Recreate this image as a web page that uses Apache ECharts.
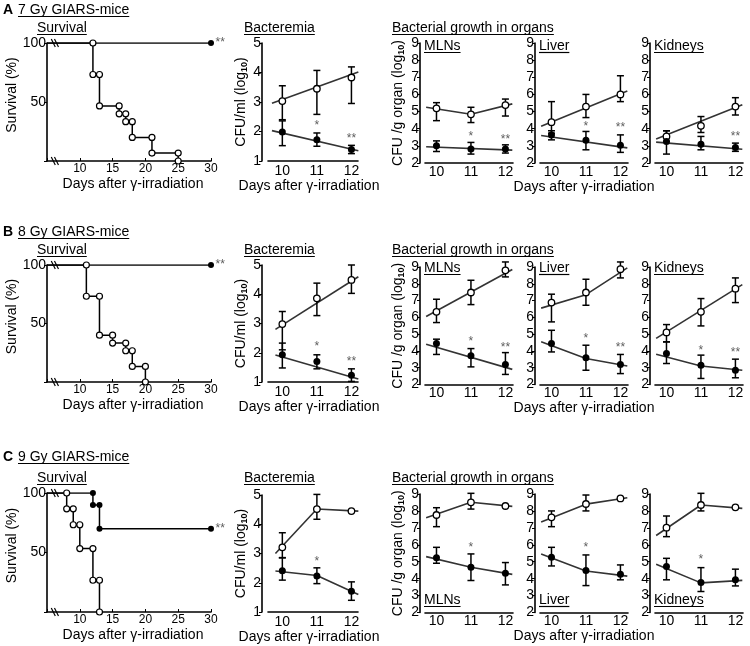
<!DOCTYPE html>
<html>
<head>
<meta charset="utf-8">
<script src="https://cdn.jsdelivr.net/npm/echarts@6/dist/echarts.min.js"></script>
<style>
  html, body { margin: 0; padding: 0; background: #fff; }
  #chart { width: 750px; height: 646px; }
</style>
</head>
<body>
<div id="chart"></div>
<script>
const FONT = "'Liberation Sans', Arial, sans-serif";
const DAYS = [10, 11, 12];

// ---- Survival: day of each drop, survival % after the drop ----
const A_survOpenDays = [12, 13, 16, 17, 18, 21, 25];
const A_survOpenPct = [73.3, 46.7, 40, 33.3, 20, 6.7, 0];
const A_survFillDays = [];
const A_survFillPct = [];
const B_survOpenDays = [11, 13, 15, 17, 18, 20];
const B_survOpenPct = [73.3, 40, 33.3, 26.7, 13.3, 0];
const B_survFillDays = [];
const B_survFillPct = [];
const C_survOpenDays = [8, 9, 10, 12, 13];
const C_survOpenPct = [86.7, 73.3, 53.3, 26.7, 0];
const C_survFillDays = [12, 13];
const C_survFillPct = [90, 70];
const SURV_END = 30;
const SURV_STAR = [[30, 100, '**']];
const C_SURV_STAR = [[30, 70, '**']];
const SURV_BREAKS = [[6.2, 100], [6.2, 0]];

// ---- Bacteremia / organs: [mean, low, high] at days 10, 11, 12 ----
// row A
const A_bactOpen = [[3.03, 2.4, 3.55], [3.45, 2.58, 4.07], [3.83, 2.95, 4.19]];
const A_bactFill = [[1.98, 1.52, 2.36], [1.72, 1.5, 1.95], [1.39, 1.25, 1.53]];
const A_bactOpenLine = [[9.7, 2.96], [12.2, 4.02]];
const A_bactFillLine = [[9.7, 2.03], [12.2, 1.35]];
const A_bactStars = [[11, 2.2, '*'], [12, 1.75, '**']];

const A_mlnOpen = [[5.19, 4.47, 5.52], [4.84, 4.36, 5.25], [5.38, 4.74, 5.73]];
const A_mlnFill = [[3.0, 2.67, 3.29], [2.81, 2.52, 3.2], [2.81, 2.58, 3.06]];
const A_mlnOpenLine = [[9.7, 5.25], [11, 4.84], [12.2, 5.45]];
const A_mlnFillLine = [[9.7, 2.95], [12.2, 2.75]];
const A_mlnStars = [[11, 3.55, '*'], [12, 3.35, '**']];

const A_livOpen = [[4.38, 3.74, 5.58], [5.29, 4.65, 6.0], [6.0, 5.58, 7.09]];
const A_livFill = [[3.64, 3.35, 3.88], [3.32, 2.77, 3.84], [3.03, 2.62, 3.64]];
const A_livOpenLine = [[9.7, 4.15], [12.2, 6.2]];
const A_livFillLine = [[9.7, 3.6], [12.2, 2.88]];
const A_livStars = [[11, 4.1, '*'], [12, 4.05, '**']];

const A_kidOpen = [[3.55, 3.26, 3.88], [4.17, 3.78, 4.71], [5.29, 4.8, 5.81]];
const A_kidFill = [[3.26, 2.52, 3.88], [3.1, 2.77, 3.55], [2.91, 2.68, 3.16]];
const A_kidOpenLine = [[9.7, 3.4], [12.2, 5.4]];
const A_kidFillLine = [[9.7, 3.22], [12.2, 2.8]];
const A_kidStars = [[12, 3.55, '**']];

// row B
const B_bactOpen = [[2.98, 2.1, 3.41], [3.86, 3.27, 4.38], [4.49, 4.03, 5.0]];
const B_bactFill = [[1.93, 1.48, 2.33], [1.7, 1.45, 1.93], [1.23, 1.02, 1.45]];
const B_bactOpenLine = [[9.8, 2.8], [12.2, 4.6]];
const B_bactFillLine = [[9.8, 1.92], [12.2, 1.1]];
const B_bactStars = [[11, 2.2, '*'], [12, 1.68, '**']];

const B_mlnOpen = [[6.33, 5.69, 7.08], [7.48, 6.76, 8.21], [8.8, 8.41, 9.3]];
const B_mlnFill = [[4.44, 3.79, 4.7], [3.71, 3.05, 4.14], [3.19, 2.6, 3.9]];
const B_mlnOpenLine = [[9.7, 6.05], [12.2, 8.85]];
const B_mlnFillLine = [[9.7, 4.4], [12.2, 2.9]];
const B_mlnStars = [[11, 4.54, '*'], [12, 4.2, '**']];

const B_livOpen = [[6.88, 5.73, 7.38], [7.48, 6.72, 8.27], [8.87, 8.35, 9.3]];
const B_livFill = [[4.44, 3.94, 5.23], [3.59, 2.85, 4.34], [3.19, 2.65, 3.79]];
const B_livOpenLine = [[9.7, 6.55], [11, 7.35], [12.2, 8.95]];
const B_livFillLine = [[9.7, 4.55], [11, 3.55], [12.2, 3.1]];
const B_livStars = [[11, 4.7, '*'], [12, 4.18, '**']];

const B_kidOpen = [[5.1, 4.54, 5.57], [6.33, 5.49, 7.12], [7.71, 6.88, 8.35]];
const B_kidFill = [[3.85, 3.25, 4.54], [3.15, 2.36, 3.75], [2.85, 2.4, 3.51]];
const B_kidOpenLine = [[9.7, 4.75], [12.2, 7.95]];
const B_kidFillLine = [[9.7, 3.8], [11, 3.1], [12.2, 2.85]];
const B_kidStars = [[11, 4.04, '*'], [12, 3.9, '**']];

// row C
const C_bactOpen = [[3.21, 2.86, 3.71], [4.52, 4.17, 5.02], [4.45, 4.45, 4.45]];
const C_bactFill = [[2.41, 2.09, 2.85], [2.23, 1.97, 2.51], [1.71, 1.4, 2.03]];
const C_bactOpenLine = [[9.8, 3.0], [11, 4.52], [12.2, 4.45]];
const C_bactFillLine = [[9.8, 2.4], [11, 2.25], [12.2, 1.6]];
const C_bactStars = [[11, 2.71, '*']];

const C_mlnOpen = [[7.76, 7.07, 8.19], [8.51, 8.11, 9.04], [8.29, 8.29, 8.29]];
const C_mlnFill = [[5.24, 4.91, 5.85], [4.67, 3.89, 5.46], [4.32, 3.63, 4.95]];
const C_mlnOpenLine = [[9.7, 7.6], [11, 8.51], [12.2, 8.27]];
const C_mlnFillLine = [[9.7, 5.3], [11, 4.67], [12.2, 4.25]];
const C_mlnStars = [[11, 5.85, '*']];

const C_livOpen = [[7.62, 7.07, 8.0], [8.41, 8.0, 8.94], [8.74, 8.74, 8.74]];
const C_livFill = [[5.26, 4.75, 5.85], [4.48, 3.59, 5.4], [4.26, 3.93, 4.81]];
const C_livOpenLine = [[9.7, 7.35], [11, 8.4], [12.2, 8.78]];
const C_livFillLine = [[9.7, 5.45], [11, 4.45], [12.2, 4.15]];
const C_livStars = [[11, 5.8, '*']];

const C_kidOpen = [[7.01, 6.48, 7.7], [8.35, 8.0, 9.04], [8.21, 8.21, 8.21]];
const C_kidFill = [[4.71, 3.93, 5.2], [3.77, 3.24, 4.65], [3.93, 3.57, 4.56]];
const C_kidOpenLine = [[9.7, 6.55], [11, 8.35], [12.2, 8.15]];
const C_kidFillLine = [[9.7, 4.85], [11, 3.75], [12.2, 3.9]];
const C_kidStars = [[11, 5.1, '*']];

const ROWS = [
  { head: 'A', dose: '7 Gy GIARS-mice', headY: 10, titleY: 28, subY: 46,
    survBox: [43, 118], bactBox: [43, 118], orgBox: [43, 120],
    survOpen: [A_survOpenDays, A_survOpenPct], survFill: [A_survFillDays, A_survFillPct], survStar: SURV_STAR,
    bact: [A_bactOpen, A_bactFill, A_bactOpenLine, A_bactFillLine, A_bactStars],
    organs: [
      [A_mlnOpen, A_mlnFill, A_mlnOpenLine, A_mlnFillLine, A_mlnStars],
      [A_livOpen, A_livFill, A_livOpenLine, A_livFillLine, A_livStars],
      [A_kidOpen, A_kidFill, A_kidOpenLine, A_kidFillLine, A_kidStars]] },
  { head: 'B', dose: '8 Gy GIARS-mice', headY: 232, titleY: 250, subY: 268,
    survBox: [265, 117], bactBox: [265, 117], orgBox: [267, 117.5],
    survOpen: [B_survOpenDays, B_survOpenPct], survFill: [B_survFillDays, B_survFillPct], survStar: SURV_STAR,
    bact: [B_bactOpen, B_bactFill, B_bactOpenLine, B_bactFillLine, B_bactStars],
    organs: [
      [B_mlnOpen, B_mlnFill, B_mlnOpenLine, B_mlnFillLine, B_mlnStars],
      [B_livOpen, B_livFill, B_livOpenLine, B_livFillLine, B_livStars],
      [B_kidOpen, B_kidFill, B_kidOpenLine, B_kidFillLine, B_kidStars]] },
  { head: 'C', dose: '9 Gy GIARS-mice', headY: 457, titleY: 478, subY: 600,
    survBox: [493, 119], bactBox: [495, 117], orgBox: [494, 118.5],
    survOpen: [C_survOpenDays, C_survOpenPct], survFill: [C_survFillDays, C_survFillPct], survStar: C_SURV_STAR,
    bact: [C_bactOpen, C_bactFill, C_bactOpenLine, C_bactFillLine, C_bactStars],
    organs: [
      [C_mlnOpen, C_mlnFill, C_mlnOpenLine, C_mlnFillLine, C_mlnStars],
      [C_livOpen, C_livFill, C_livOpenLine, C_livFillLine, C_livStars],
      [C_kidOpen, C_kidFill, C_kidOpenLine, C_kidFillLine, C_kidStars]] },
];
const ORGAN_NAMES = ['MLNs', 'Liver', 'Kidneys'];
const ORGAN_AXIS_X = [420, 535, 650];
const X_NAME = 'Days after γ-irradiation';

// ---- helpers ----
const measure = document.createElement('canvas').getContext('2d');
function textWidth(t, size, weight) {
  measure.font = (weight || 'normal') + ' ' + size + 'px ' + FONT;
  return measure.measureText(t).width;
}
const graphics = [];
function addText(x, y, text, size, opts) {
  opts = opts || {};
  graphics.push({ type: 'text', x, y, silent: true,
    style: { text, fill: '#000', font: (opts.weight || 'normal') + ' ' + size + 'px ' + FONT,
      verticalAlign: 'middle', textVerticalAlign: 'middle' } });
  if (opts.underline) {
    const w = textWidth(text, size, opts.weight);
    const uy = Math.round(y + size * 0.35 + 1.5) + 0.5;
    graphics.push({ type: 'line', silent: true, shape: { x1: x, y1: uy, x2: x + w, y2: uy },
      style: { stroke: '#000', lineWidth: 1.2 } });
  }
}

const grids = [], xAxes = [], yAxes = [], series = [];
const AXLINE = { show: true, onZero: false, lineStyle: { color: '#000', width: 1.6 } };
const LBL = { color: '#000', fontFamily: FONT, fontSize: 14 };
const SUB = { color: '#000', fontFamily: FONT, fontSize: 9, fontWeight: 'bold', padding: [7, 0, 0, 0] };

function addGrid(g, x, y) {
  const i = grids.length;
  grids.push(g);
  xAxes.push(Object.assign({ gridIndex: i, type: 'value', splitLine: { show: false } }, x));
  yAxes.push(Object.assign({ gridIndex: i, type: 'value', splitLine: { show: false } }, y));
  return i;
}

function km(days, pct, endDay) {
  const pts = [{ value: [5, 100], symbol: 'none' }];
  let prev = 100;
  days.forEach((d, i) => { pts.push([d, prev], [d, pct[i]]); prev = pct[i]; });
  if (endDay) pts.push([endDay, prev]);
  return pts;
}

function starSeries(g, stars, pos) {
  return { type: 'scatter', xAxisIndex: g, yAxisIndex: g, data: stars, symbolSize: 1, z: 6,
    itemStyle: { color: 'rgba(0,0,0,0)' }, silent: true,
    label: { show: true, position: pos || 'inside', distance: 4, formatter: p => p.data[2],
      color: '#333', fontFamily: FONT, fontSize: 12 } };
}

function errSeries(g, trip) {
  return { type: 'custom', xAxisIndex: g, yAxisIndex: g, clip: false, z: 4, silent: true,
    data: trip.map((t, i) => [DAYS[i], t[1], t[2]]),
    renderItem(params, api) {
      const x = api.value(0);
      const lo = api.coord([x, api.value(1)]), hi = api.coord([x, api.value(2)]);
      const w = 3.5, st = { stroke: '#000', lineWidth: 1.5 };
      return { type: 'group', children: [
        { type: 'line', shape: { x1: lo[0], y1: lo[1], x2: hi[0], y2: hi[1] }, style: st },
        { type: 'line', shape: { x1: lo[0] - w, y1: lo[1], x2: lo[0] + w, y2: lo[1] }, style: st },
        { type: 'line', shape: { x1: hi[0] - w, y1: hi[1], x2: hi[0] + w, y2: hi[1] }, style: st }] };
    } };
}

function dotSeries(g, trip, open) {
  return { type: 'scatter', xAxisIndex: g, yAxisIndex: g, z: 5, silent: true,
    data: trip.map((t, i) => [DAYS[i], t[0]]), symbol: 'circle', symbolSize: open ? 6.5 : 7,
    itemStyle: open ? { color: '#fff', borderColor: '#000', borderWidth: 1.3, opacity: 1 }
                    : { color: '#000', opacity: 1 } };
}

function lineSeries(g, pts) {
  return { type: 'line', xAxisIndex: g, yAxisIndex: g, data: pts, showSymbol: false, z: 3, silent: true,
    lineStyle: { color: '#333', width: 1.6 } };
}

function addMeasured(g, d) {
  const [open, fill, openLine, fillLine, stars] = d;
  series.push(lineSeries(g, openLine), lineSeries(g, fillLine),
    errSeries(g, open), errSeries(g, fill), dotSeries(g, open, true), dotSeries(g, fill, false),
    starSeries(g, stars));
}

// ---- build each row ----
ROWS.forEach(r => {
  // headers
  addText(3, r.headY, r.head, 14, { weight: 'bold' });
  addText(18, r.headY, r.dose, 14, { underline: true });
  addText(37, r.titleY, 'Survival', 14, { underline: true });
  addText(244, r.titleY, 'Bacteremia', 14, { underline: true });
  addText(392, r.titleY, 'Bacterial growth in organs', 14, { underline: true });

  // survival
  const gs = addGrid({ left: 47, top: r.survBox[0], width: 164, height: r.survBox[1] },
    { min: 5, max: 30, interval: 5, axisLine: AXLINE,
      axisTick: { show: true, inside: true, length: 3, lineStyle: { color: '#000' } },
      axisLabel: Object.assign({}, LBL, { fontSize: 12, margin: 2, formatter: v => v === 5 ? '' : v }),
      name: X_NAME, nameLocation: 'middle', nameGap: 16,
      nameTextStyle: Object.assign({}, LBL, { padding: [0, 0, 0, 8] }) },
    { min: 0, max: 100, interval: 50, axisLine: AXLINE,
      axisTick: { show: true, length: 3, lineStyle: { color: '#000' } },
      axisLabel: Object.assign({}, LBL, { margin: 1, formatter: v => v === 0 ? '' : v }),
      name: 'Survival (%)', nameLocation: 'middle', nameGap: 22, nameRotate: 90,
      nameTextStyle: Object.assign({}, LBL, { padding: [0, 0, 0, 14] }) });
  series.push(
    { type: 'line', xAxisIndex: gs, yAxisIndex: gs, data: km(r.survFill[0], r.survFill[1], SURV_END),
      symbol: 'circle', symbolSize: 6, z: 3, silent: true,
      lineStyle: { color: '#000', width: 1.5 }, itemStyle: { color: '#000' } },
    { type: 'line', xAxisIndex: gs, yAxisIndex: gs, data: km(r.survOpen[0], r.survOpen[1]),
      symbol: 'circle', symbolSize: 6, z: 4, silent: true,
      lineStyle: { color: '#000', width: 1.5 },
      itemStyle: { color: '#fff', borderColor: '#000', borderWidth: 1.2 } },
    { type: 'custom', xAxisIndex: gs, yAxisIndex: gs, data: SURV_BREAKS, z: 5, clip: false, silent: true,
      renderItem(params, api) {
        const p = api.coord([api.value(0), api.value(1)]);
        const st = { stroke: '#000', lineWidth: 1.2 };
        return { type: 'group', children: [-1.6, 1.6].map(dx => ({ type: 'line',
          shape: { x1: p[0] + dx - 2, y1: p[1] - 4, x2: p[0] + dx + 2, y2: p[1] + 4 }, style: st })) };
      } },
    starSeries(gs, r.survStar, 'right'));

  // bacteremia
  const gb = addGrid({ left: 268, top: r.bactBox[0], width: 90, height: r.bactBox[1] },
    { min: 9.585, max: 12.19, axisLine: AXLINE, axisTick: { show: false },
      axisLabel: Object.assign({}, LBL, { margin: 3, customValues: DAYS }),
      name: X_NAME, nameLocation: 'middle', nameGap: 16, nameTextStyle: Object.assign({}, LBL, { padding: [0, 8, 0, 0] }) },
    { min: 1, max: 5, interval: 1, offset: 6, axisLine: AXLINE,
      axisTick: { show: true, length: 3, lineStyle: { color: '#000' } },
      axisLabel: Object.assign({}, LBL, { margin: 1 }),
      name: '{a|CFU/ml (log}{s|10}{a|)}', nameLocation: 'middle', nameGap: 7, nameRotate: 90,
      nameTextStyle: { rich: { a: Object.assign({}, LBL), s: SUB } } });
  addMeasured(gb, r.bact);

  // organs
  r.organs.forEach((d, k) => {
    const ax = ORGAN_AXIS_X[k];
    const go = addGrid({ left: ax + 5, top: r.orgBox[0], width: 88, height: r.orgBox[1] },
      Object.assign({ min: 9.667, max: 12.22, axisLine: AXLINE, axisTick: { show: false },
        axisLabel: Object.assign({}, LBL, { margin: 2, customValues: DAYS }) },
        k === 1 ? { name: X_NAME, nameLocation: 'middle', nameGap: 15, nameTextStyle: Object.assign({}, LBL) } : {}),
      Object.assign({ min: 2, max: 9, interval: 1, offset: 5, axisLine: AXLINE,
        axisTick: { show: true, length: 3, lineStyle: { color: '#000' } },
        axisLabel: Object.assign({}, LBL, { margin: 1 }) },
        k === 0 ? { name: '{a|CFU /g organ (log}{s|10}{a|)}', nameLocation: 'middle', nameGap: 14, nameRotate: 90,
          nameTextStyle: { rich: { a: Object.assign({}, LBL), s: SUB } } } : {}));
    addMeasured(go, d);
    addText(ax + 4, r.subY, ORGAN_NAMES[k], 14, { underline: true });
  });
});

const chart = echarts.init(document.getElementById('chart'), null, { renderer: 'canvas' });
chart.setOption({
  animation: false,
  backgroundColor: '#fff',
  textStyle: { fontFamily: FONT },
  grid: grids,
  xAxis: xAxes,
  yAxis: yAxes,
  series: series,
  graphic: graphics,
});
</script>
</body>
</html>
